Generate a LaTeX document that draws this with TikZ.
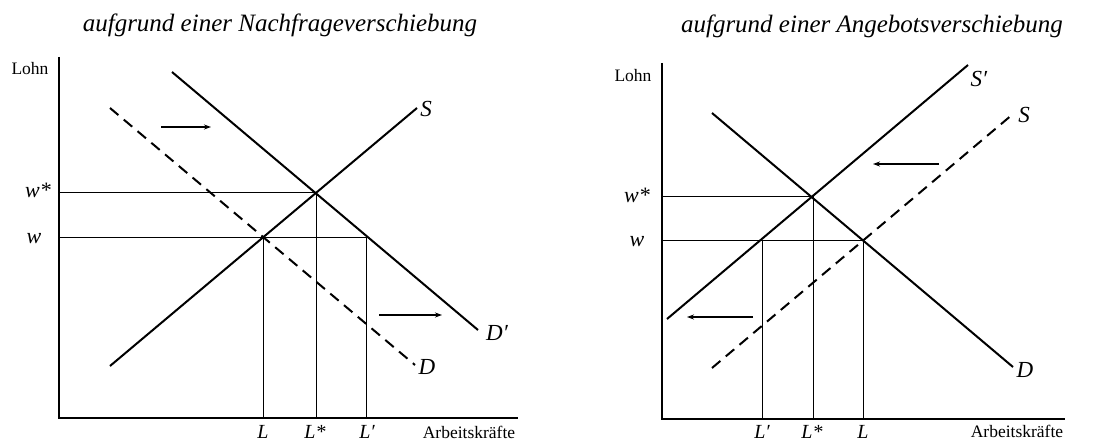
\documentclass[tikz,border=0pt]{standalone}
\usepackage{fontspec}
\setmainfont{Liberation Serif}
\usetikzlibrary{arrows.meta}
\begin{document}
\begin{tikzpicture}[x=1pt,y=-1pt,
  axis/.style={line width=2.6pt},
  curve/.style={line width=2pt},
  guide/.style={line width=0.9pt},
  shiftarrow/.style={line width=1.1pt,-{Stealth[length=7pt,width=5pt]}},
  dashcurve/.style={curve,dash pattern=on 11pt off 7pt},
  title/.style={font=\fontsize{25}{30}\selectfont\itshape,anchor=base,inner sep=0pt},
  axlabel/.style={font=\fontsize{17.5}{20}\selectfont,anchor=base,inner sep=0pt},
  curvelabel/.style={font=\fontsize{23}{26}\selectfont\itshape,anchor=base,inner sep=0pt},
  qlabel/.style={font=\fontsize{20}{24}\selectfont\itshape,anchor=base,inner sep=0pt},
  wlabel/.style={font=\fontsize{22}{26}\selectfont\itshape,anchor=base,inner sep=0pt},
  ]
\useasboundingbox (0,0) rectangle (1101,441);

% ===== Left panel: Nachfrageverschiebung =====
\node[title] (t1) at (280,32) {aufgrund einer Nachfrageverschiebung};
\coordinate (ya1) at (59,57);
\coordinate (o1) at (59,418);
\coordinate (xa1) at (518,418);
\draw[axis] (ya1) -- (o1) -- (xa1);
\node[axlabel] (lohn1) at (30,75) {Lohn};
\node[axlabel] (ak1) at (469,438) {Arbeitskräfte};

\coordinate (s1a) at (110,366);
\coordinate (s1b) at (417,108);
\coordinate (dp1a) at (172,72);
\coordinate (dp1b) at (478,330);
\coordinate (d1a) at (110,108);
\coordinate (d1b) at (415,365);
\draw[curve] (s1a) -- (s1b);
\draw[curve] (dp1a) -- (dp1b);
\draw[dashcurve] (d1a) -- (d1b);

\coordinate (ws1) at (59,192);
\coordinate (e1) at (316,192);
\coordinate (w1) at (59,237);
\coordinate (f1) at (366,237);
\coordinate (g1) at (263,237);
\draw[guide] (ws1) -- (e1);
\draw[guide] (w1) -- (f1);
\draw[guide] (g1) -- (263,418);
\draw[guide] (e1) -- (316,418);
\draw[guide] (f1) -- (366,418);

\node[curvelabel] (S1) at (426,117) {S};
\node[curvelabel] (Dp1) at (497,340) {D′};
\node[curvelabel] (D1) at (427,374) {D};
\node[wlabel] (wst1) at (38,197) {w*};
\node[wlabel] (wl1) at (34,243) {w};
\node[qlabel] (L1) at (263,438) {L};
\node[qlabel] (Ls1) at (315,438) {L*};
\node[qlabel] (Lp1) at (367,438) {L′};

\coordinate (a1s) at (161,127);
\coordinate (a1e) at (211,127);
\coordinate (a2s) at (379,315);
\coordinate (a2e) at (442,315);
\draw[shiftarrow] (a1s) -- (a1e);
\draw[shiftarrow] (a2s) -- (a2e);

% ===== Right panel: Angebotsverschiebung =====
\node[title] (t2) at (872,33) {aufgrund einer Angebotsverschiebung};
\coordinate (ya2) at (662,63);
\coordinate (o2) at (662,419);
\coordinate (xa2) at (1065,419);
\draw[axis] (ya2) -- (o2) -- (xa2);
\node[axlabel] (lohn2) at (633,82) {Lohn};
\node[axlabel] (ak2) at (1017,437) {Arbeitskräfte};

\coordinate (sp2a) at (667,319);
\coordinate (sp2b) at (968,65);
\coordinate (s2a) at (712,368);
\coordinate (s2b) at (1013,114);
\coordinate (d2a) at (712,113);
\coordinate (d2b) at (1013,367);
\draw[curve] (sp2a) -- (sp2b);
\draw[dashcurve] (s2a) -- (s2b);
\draw[curve] (d2a) -- (d2b);

\coordinate (ws2) at (662,196);
\coordinate (e2) at (813,196);
\coordinate (w2) at (662,240);
\coordinate (f2) at (863,240);
\coordinate (g2) at (762,240);
\draw[guide] (ws2) -- (e2);
\draw[guide] (w2) -- (f2);
\draw[guide] (g2) -- (762,419);
\draw[guide] (e2) -- (813,419);
\draw[guide] (f2) -- (863,419);

\node[curvelabel] (Sp2) at (979,87) {S′};
\node[curvelabel] (S2) at (1024,123) {S};
\node[curvelabel] (D2) at (1025,377) {D};
\node[wlabel] (wst2) at (637,202) {w*};
\node[wlabel] (wl2) at (637,246) {w};
\node[qlabel] (Lp2) at (762,438) {L′};
\node[qlabel] (Ls2) at (812,438) {L*};
\node[qlabel] (L2) at (863,438) {L};

\coordinate (b1s) at (939,164);
\coordinate (b1e) at (873,164);
\coordinate (b2s) at (753,317);
\coordinate (b2e) at (687,317);
\draw[shiftarrow] (b1s) -- (b1e);
\draw[shiftarrow] (b2s) -- (b2e);
\end{tikzpicture}
\end{document}
